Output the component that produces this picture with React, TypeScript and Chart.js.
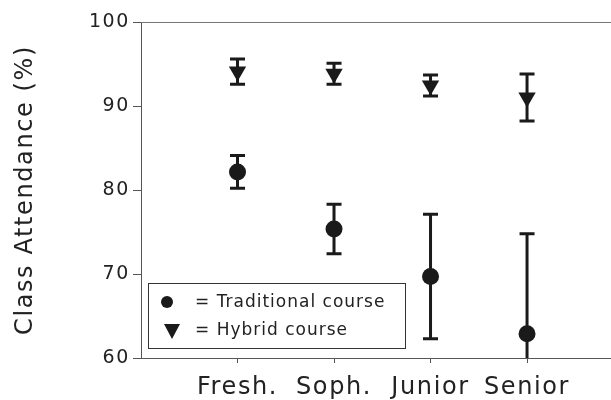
import React, { useEffect, useRef } from 'react';
import { Chart, registerables } from 'chart.js';

Chart.register(...registerables);

const categories = ['Fresh.', 'Soph.', 'Junior', 'Senior'];
const traditionalMean = [82.15, 75.35, 69.7, 62.9];
const traditionalErr = [1.95, 2.95, 7.4, 11.9];
const hybridMean = [94.1, 93.85, 92.45, 91.0];
const hybridErr = [1.5, 1.25, 1.25, 2.8];
const yTicks = [60, 70, 80, 90, 100];
const legendLabels = ['= Traditional course', '= Hybrid course'];

const FONT = '"DejaVu Sans", Verdana, sans-serif';
const INK = '#1a1a1a';

const spacingPlugin = {
  id: 'spacing',
  beforeUpdate(chart: any) {
    chart.ctx.letterSpacing = '1.6px';
  },
  beforeDraw(chart: any) {
    chart.ctx.letterSpacing = '1.6px';
  },
};

const errorBarPlugin = {
  id: 'errorBars',
  beforeDatasetsDraw(chart: any) {
    const { ctx, chartArea, scales } = chart;
    const sx = scales.x;
    const sy = scales.y;
    ctx.save();
    ctx.beginPath();
    ctx.rect(chartArea.left, chartArea.top, chartArea.right - chartArea.left, chartArea.bottom - chartArea.top);
    ctx.clip();
    ctx.strokeStyle = INK;
    ctx.lineWidth = 3;
    const series = [
      { m: traditionalMean, e: traditionalErr },
      { m: hybridMean, e: hybridErr },
    ];
    series.forEach(({ m, e }) => {
      m.forEach((v, i) => {
        const x = sx.getPixelForValue(i + 1);
        const yt = sy.getPixelForValue(v + e[i]);
        const yb = sy.getPixelForValue(v - e[i]);
        ctx.beginPath();
        ctx.moveTo(x, yt);
        ctx.lineTo(x, yb);
        ctx.moveTo(x - 7.5, yt);
        ctx.lineTo(x + 7.5, yt);
        ctx.moveTo(x - 7.5, yb);
        ctx.lineTo(x + 7.5, yb);
        ctx.stroke();
      });
    });
    ctx.restore();
  },
  afterDraw(chart: any) {
    const { ctx, chartArea } = chart;
    ctx.save();
    ctx.strokeStyle = '#777';
    ctx.lineWidth = 1;
    ctx.beginPath();
    ctx.moveTo(chartArea.left, chartArea.top + 0.5);
    ctx.lineTo(chartArea.right, chartArea.top + 0.5);
    ctx.stroke();
    const bx = chartArea.left + 7;
    const by = chartArea.bottom - 75;
    const bw = 257;
    const bh = 65;
    ctx.fillStyle = '#fff';
    ctx.fillRect(bx, by, bw, bh);
    ctx.strokeStyle = '#333';
    ctx.lineWidth = 1;
    ctx.strokeRect(bx + 0.5, by + 0.5, bw, bh);
    ctx.fillStyle = INK;
    ctx.beginPath();
    ctx.arc(bx + 19, by + 19, 6, 0, Math.PI * 2);
    ctx.fill();
    const tx = bx + 24;
    const ty = by + 41;
    ctx.beginPath();
    ctx.moveTo(tx - 8, ty);
    ctx.lineTo(tx + 8, ty);
    ctx.lineTo(tx, ty + 15);
    ctx.closePath();
    ctx.fill();
    ctx.letterSpacing = '1px';
    ctx.font = '17px ' + FONT;
    ctx.fillStyle = '#222';
    ctx.textBaseline = 'middle';
    ctx.fillText(legendLabels[0], bx + 47, by + 20);
    ctx.fillText(legendLabels[1], bx + 47, by + 48);
    ctx.restore();
  },
};

export default function App() {
  const ref = useRef<HTMLCanvasElement>(null);
  useEffect(() => {
    if (!ref.current) return;
    const chart = new Chart(ref.current, {
      type: 'scatter',
      data: {
        datasets: [
          {
            label: 'Traditional course',
            data: traditionalMean.map((v, i) => ({ x: i + 1, y: v })),
            pointStyle: 'circle',
            pointRadius: 8.5,
            backgroundColor: INK,
            borderColor: INK,
            borderWidth: 0,
          },
          {
            label: 'Hybrid course',
            data: hybridMean.map((v, i) => ({ x: i + 1, y: v })),
            pointStyle: 'triangle',
            pointRotation: 180,
            pointRadius: 10,
            backgroundColor: INK,
            borderColor: INK,
            borderWidth: 0,
          },
        ],
      },
      options: {
        animation: false,
        responsive: false,
        layout: { autoPadding: false, padding: { top: 22, right: 0, left: 0, bottom: 0 } },
        plugins: { legend: { display: false }, tooltip: { enabled: false } },
        scales: {
          x: {
            type: 'linear',
            min: 0,
            max: 4.87,
            afterBuildTicks: (scale: any) => {
              scale.ticks = categories.map((_, i) => ({ value: i + 1 }));
            },
            afterFit: (scale: any) => {
              scale.height = 42;
              scale.paddingLeft = 0;
              scale.paddingRight = 0;
            },
            ticks: {
              callback: (v: any) => categories[Number(v) - 1] ?? '',
              font: { family: FONT, size: 24 },
              color: '#222',
              padding: 10,
              maxRotation: 0,
              autoSkip: false,
            },
            grid: { display: true, drawOnChartArea: false, drawTicks: true, tickLength: 5, color: '#555' },
            border: { display: true, color: '#555', width: 1 },
          },
          y: {
            min: 60,
            max: 100,
            afterBuildTicks: (scale: any) => {
              scale.ticks = yTicks.map((v) => ({ value: v }));
            },
            afterFit: (scale: any) => {
              scale.width = 141;
            },
            ticks: {
              font: { family: FONT, size: 19 },
              color: '#222',
              padding: 3,
            },
            grid: { display: true, drawOnChartArea: false, drawTicks: true, tickLength: 8, color: '#555' },
            border: { display: true, color: '#555', width: 1 },
            title: {
              display: true,
              text: 'Class Attendance (%)',
              font: { family: FONT, size: 24 },
              color: '#222',
              padding: { top: 11, bottom: 0 },
            },
          },
        },
      },
      plugins: [spacingPlugin, errorBarPlugin],
    });
    return () => chart.destroy();
  }, []);
  return (
    <div style={{ position: 'fixed', left: 0, top: 0, width: 611, height: 400, background: '#fff' }}>
      <canvas ref={ref} width={611} height={400} />
    </div>
  );
}
